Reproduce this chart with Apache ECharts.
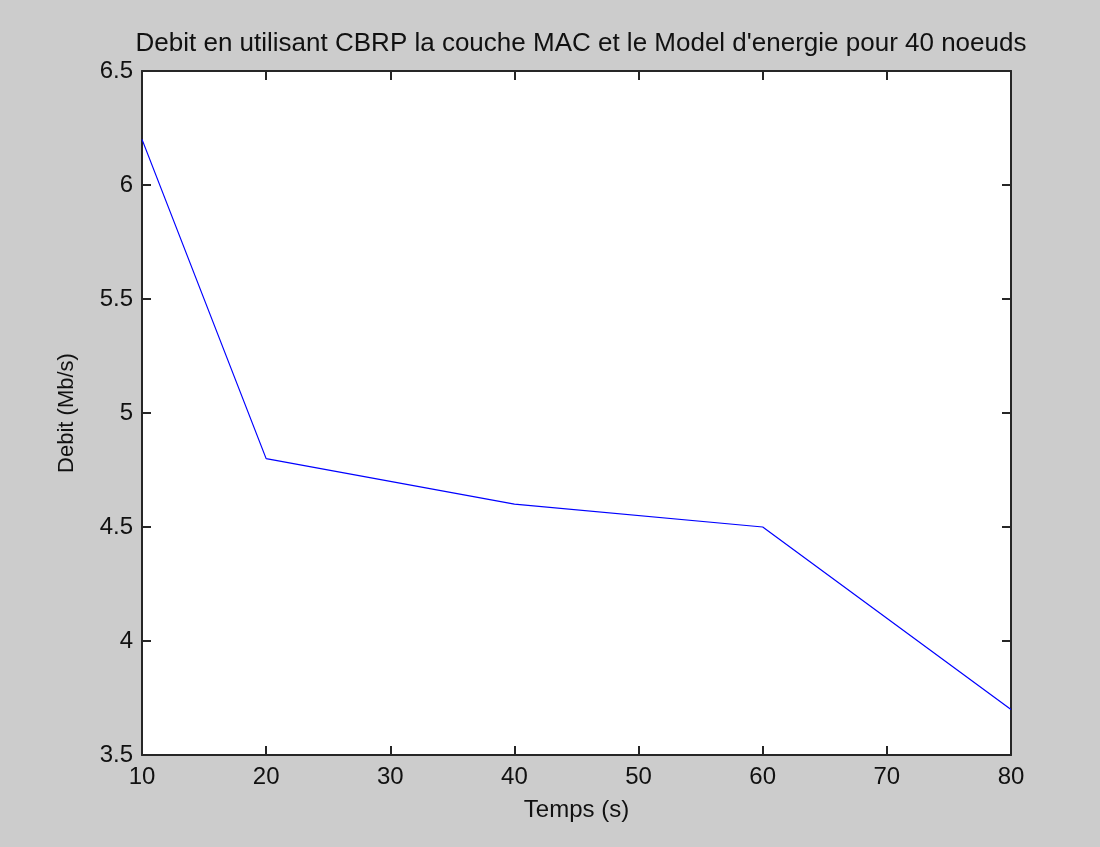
<!DOCTYPE html>
<html>
<head>
<meta charset="utf-8">
<script src="https://cdn.jsdelivr.net/npm/echarts@6/dist/echarts.min.js"></script>
<style>
html,body{margin:0;padding:0;background:#cccccc;}
#chart{width:1100px;height:847px;}
</style>
</head>
<body>
<div id="chart"></div>
<script>
const titleText = "Debit en utilisant CBRP la couche MAC et le Model d'energie pour 40 noeuds";
const xName = "Temps (s)";
const yName = "Debit (Mb/s)";
const temps = [10, 20, 40, 60, 80];
const debit = [6.2, 4.8, 4.6, 4.5, 3.7];

const chart = echarts.init(document.getElementById('chart'), null, {renderer: 'canvas'});
const font = 'Liberation Sans, Arial, sans-serif';
const axisLine = {show: true, lineStyle: {color: '#262626', width: 2}};
const axisTick = {show: true, inside: true, length: 9, lineStyle: {color: '#262626', width: 2}};
const labelStyle = {color: '#111111', fontFamily: font, fontSize: 24};

chart.setOption({
  backgroundColor: '#cccccc',
  animation: false,
  title: {
    text: titleText,
    left: 576, top: 26, textAlign: 'center',
    textStyle: {color: '#111111', fontFamily: font, fontSize: 26, fontWeight: 'normal'}
  },
  grid: {left: 142, right: 89, top: 71, bottom: 92, show: true, backgroundColor: '#ffffff', borderWidth: 0},
  xAxis: [
    {type: 'value', min: 10, max: 80, interval: 10, position: 'bottom',
     name: xName, nameLocation: 'middle', nameGap: 43,
     nameTextStyle: {color: '#111111', fontFamily: font, fontSize: 24},
     axisLine, axisTick, axisLabel: Object.assign({margin: 10}, labelStyle), splitLine: {show: false}},
    {type: 'value', min: 10, max: 80, interval: 10, position: 'top',
     axisLine, axisTick, axisLabel: {show: false}, splitLine: {show: false}}
  ],
  yAxis: [
    {type: 'value', min: 3.5, max: 6.5, interval: 0.5, position: 'left',
     name: yName, nameLocation: 'middle', nameGap: 64,
     nameTextStyle: {color: '#111111', fontFamily: font, fontSize: 22},
     axisLine, axisTick, axisLabel: Object.assign({margin: 9}, labelStyle), splitLine: {show: false}},
    {type: 'value', min: 3.5, max: 6.5, interval: 0.5, position: 'right',
     axisLine, axisTick, axisLabel: {show: false}, splitLine: {show: false}}
  ],
  series: [{
    type: 'line',
    data: temps.map((t, i) => [t, debit[i]]),
    showSymbol: false,
    lineStyle: {color: '#0000ff', width: 1.2},
    clip: false
  }]
});
</script>
</body>
</html>
